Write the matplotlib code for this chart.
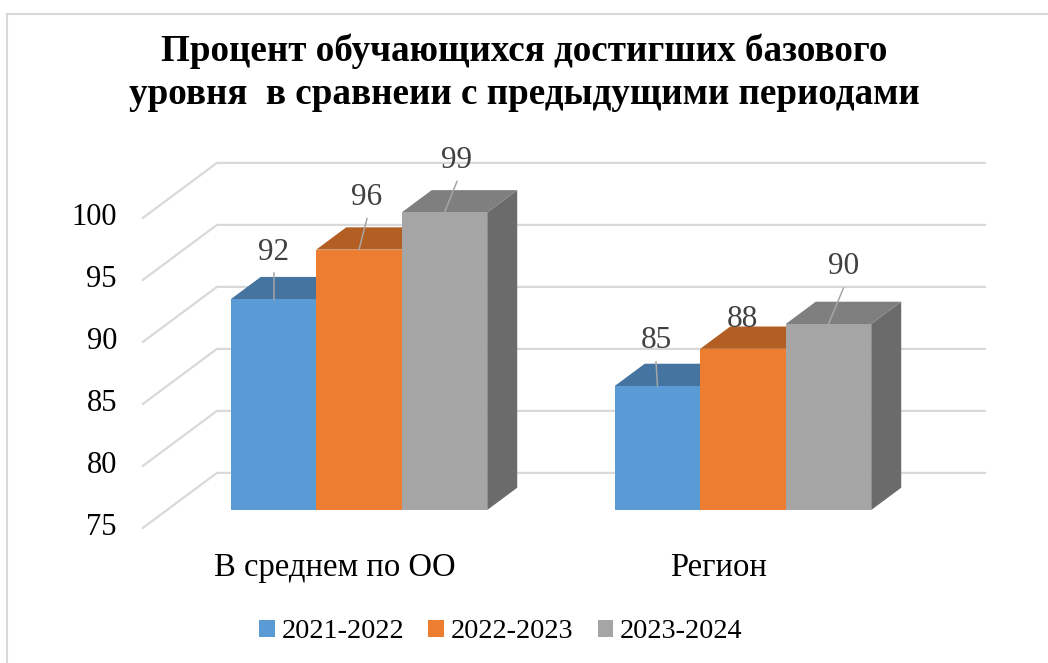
import matplotlib
matplotlib.use("Agg")
import matplotlib.pyplot as plt
from matplotlib.patches import Rectangle, Polygon, Patch
from matplotlib.lines import Line2D

# ---------------- data ----------------
categories = ["В среднем по ОО", "Регион"]
series_names = ["2021-2022", "2022-2023", "2023-2024"]
values_2021_2022 = [92, 85]
values_2022_2023 = [96, 88]
values_2023_2024 = [99, 90]
y_ticks = [75, 80, 85, 90, 95, 100]
title_lines = ["Процент обучающихся достигших базового",
               "уровня  в сравнеии с предыдущими периодами"]

series_values = [values_2021_2022, values_2022_2023, values_2023_2024]

# ---------------- styles ----------------
front_colors = ["#5B9BD5", "#ED7D31", "#A5A5A5"]
top_colors = ["#44749F", "#B35E22", "#7F7F7F"]
side_colors = ["#3E6A94", "#A8561F", "#6B6B6B"]
grid_color = "#D9D9D9"
label_color = "#404040"
serif = ["Liberation Serif", "DejaVu Serif"]

W, H, DPI = 1048, 663, 100
fig = plt.figure(figsize=(W / DPI, H / DPI), dpi=DPI)
fig.patch.set_facecolor("white")

# axes = plane of the bar fronts
ax_left, ax_right = 167, 935
ax_bottom, ax_top = 510, 200
ax = fig.add_axes([ax_left / W, (H - ax_bottom) / H,
                   (ax_right - ax_left) / W, (ax_bottom - ax_top) / H])
XMIN, XMAX = -0.5, 1.5
YMIN, YMAX = 75, 100
ax.set_xlim(XMIN, XMAX)
ax.set_ylim(YMIN, YMAX)
ax.axis("off")

sx = (ax_right - ax_left) / (XMAX - XMIN)   # px per x unit
sy = (ax_bottom - ax_top) / (YMAX - YMIN)   # px per y unit

# depth (full floor depth) in pixels, and bar front/back depth fractions
DEPTH_PX = (74.0, 55.0)
F0, F1 = 0.325, 0.73
Dx, Dy = DEPTH_PX[0] / sx, DEPTH_PX[1] / sy


def pt(x, y, d):
    return (x + (d - F0) * Dx, y + (d - F0) * Dy)


def px2d(dx, dy):
    """pixel offset (image coords, y down) -> data offset"""
    return dx / sx, -dy / sy


# ---------------- walls / gridlines ----------------
for v in y_ticks:
    p0 = pt(XMIN, v, 0)
    p1 = pt(XMIN, v, 1)
    p2 = pt(XMAX, v, 1)
    ax.add_line(Line2D([p0[0], p1[0], p2[0]], [p0[1], p1[1], p2[1]],
                       color=grid_color, lw=1.6, clip_on=False, zorder=1))
    ox, _ = px2d(-26, 0)
    ax.text(p0[0] + ox, p0[1], str(v), ha="right", va="center",
            fontsize=22, family=serif, color="black", clip_on=False)

# ---------------- bars ----------------
n = len(series_values)
bar_w = 85.5 / sx
groups = list(range(len(categories)))

# data label offsets in px from bar front-top center (layout only)
label_offsets = [[(0, -47), (-1.5, -45)],
                 [(8, -52), (-1, -29)],
                 [(12.5, -52), (15, -57)]]
leader = [[True, True], [True, False], [True, True]]

z = 3
for g in groups:
    for i in range(n):
        v = series_values[i][g]
        x0 = g - n * bar_w / 2 + i * bar_w
        x1 = x0 + bar_w
        side = Polygon([pt(x1, YMIN, F0), pt(x1, v, F0), pt(x1, v, F1), pt(x1, YMIN, F1)],
                       closed=True, facecolor=side_colors[i], edgecolor="none",
                       clip_on=False, zorder=z)
        top = Polygon([pt(x0, v, F0), pt(x1, v, F0), pt(x1, v, F1), pt(x0, v, F1)],
                      closed=True, facecolor=top_colors[i], edgecolor="none",
                      clip_on=False, zorder=z)
        front = Rectangle((x0, YMIN), bar_w, v - YMIN, facecolor=front_colors[i],
                          edgecolor="none", clip_on=False, zorder=z + 0.5)
        ax.add_patch(side)
        ax.add_patch(top)
        ax.add_patch(front)
        z += 1

        xc = (x0 + x1) / 2
        ddx, ddy = px2d(*label_offsets[i][g])
        lx, ly = xc + ddx, v + ddy
        ax.text(lx, ly, str(v), ha="center", va="center", fontsize=22.5,
                family=serif, color=label_color, zorder=50, clip_on=False)
        if leader[i][g]:
            _, gap = px2d(0, 21)
            ax.add_line(Line2D([lx, xc], [ly + gap, v], color="#A6A6A6", lw=1.1,
                               zorder=49, clip_on=False))

# ---------------- category labels ----------------
for g, name in zip(groups, categories):
    p = pt(g, YMIN, 0)
    _, oy = px2d(0, 40)
    ax.text(p[0], p[1] + oy, name, ha="center", va="center", fontsize=23.5,
            family=serif, color="black", clip_on=False)

# ---------------- title ----------------
fig.text(524 / W, 1 - 51 / H, title_lines[0], ha="center", va="center",
         fontsize=26.7, weight="bold", family=serif)
fig.text(524 / W, 1 - 94 / H, title_lines[1], ha="center", va="center",
         fontsize=26.7, weight="bold", family=serif)

# ---------------- legend ----------------
handles = [Patch(facecolor=c, edgecolor="none") for c in front_colors]
fig.legend(handles, series_names, loc="center",
           bbox_to_anchor=(501 / W, 1 - 632 / H), ncol=3, frameon=False,
           prop={"family": serif, "size": 20.3}, handlelength=0.55,
           handleheight=0.55, handletextpad=0.25, columnspacing=0.85)

# ---------------- chart border ----------------
fig.add_artist(Line2D([7 / W, 1.0], [1 - 14 / H, 1 - 14 / H],
                      transform=fig.transFigure, color=grid_color, lw=1.5))
fig.add_artist(Line2D([7 / W, 7 / W], [1 - 14 / H, 0.0],
                      transform=fig.transFigure, color=grid_color, lw=1.5))

fig.savefig("out.png", dpi=DPI, facecolor="white")
